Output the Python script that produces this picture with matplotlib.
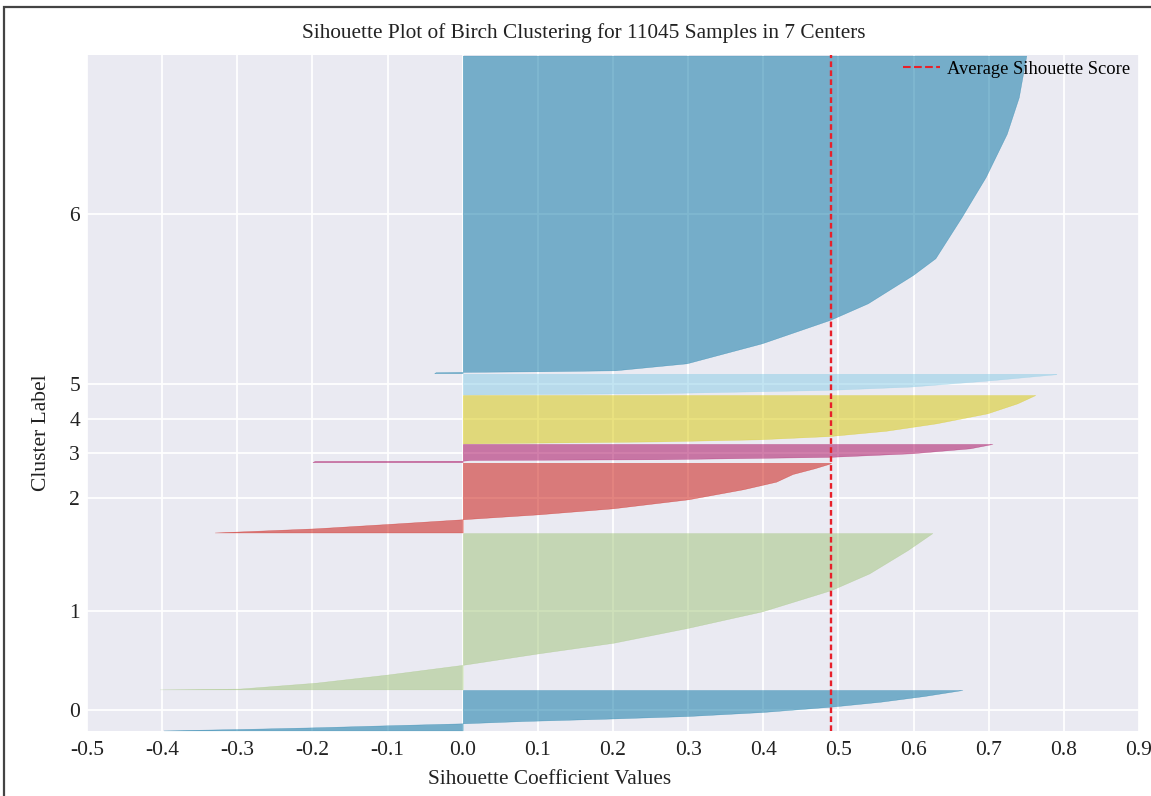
import matplotlib.pyplot as plt
import numpy as np
from matplotlib.lines import Line2D
from matplotlib.patches import Rectangle

plt.rcParams["font.family"] = ["Liberation Serif", "DejaVu Serif"]
plt.rcParams["axes.unicode_minus"] = False

title = "Sihouette Plot of Birch Clustering for 11045 Samples in 7 Centers"
cluster_labels = ["0", "1", "2", "3", "4", "5", "6"]
cluster_sizes = [665, 2572, 1147, 300, 795, 340, 5226]
cluster_colors = ["#0272a2", "#9fc377", "#ca0b03", "#a50258", "#d7c703", "#88cce6", "#0272a2"]
avg_score = 0.49

# sorted silhouette profile of each cluster: position inside cluster (0..1) -> value
c0_frac = [0.0, 0.04, 0.077, 0.126, 0.175, 0.233, 0.29, 0.356, 0.455, 0.587, 0.71, 0.851, 1.0]
c0_vals = [-0.398, -0.283, -0.195, -0.101, 0.0, 0.082, 0.191, 0.30, 0.399, 0.49, 0.556, 0.614, 0.665]

c1_frac = [0.0, 0.005, 0.043, 0.095, 0.157, 0.23, 0.298, 0.394, 0.5, 0.635, 0.742, 0.891, 1.0]
c1_vals = [-0.403, -0.297, -0.195, -0.100, 0.0, 0.10, 0.20, 0.30, 0.399, 0.49, 0.541, 0.592, 0.625]

c2_frac = [0.0, 0.06, 0.122, 0.19, 0.26, 0.347, 0.476, 0.62, 0.729, 0.839, 0.921, 0.993, 1.0]
c2_vals = [-0.33, -0.195, -0.10, 0.0, 0.10, 0.20, 0.30, 0.373, 0.417, 0.439, 0.468, 0.49, 0.49]

c3_frac = [0.0, 0.07, 0.08, 0.12, 0.16, 0.29, 0.49, 0.76, 1.0]
c3_vals = [-0.2, -0.197, 0.0, 0.01, 0.258, 0.488, 0.598, 0.675, 0.705]

c4_frac = [0.0, 0.04, 0.083, 0.151, 0.26, 0.414, 0.621, 0.828, 1.0]
c4_vals = [0.0, 0.258, 0.393, 0.488, 0.563, 0.63, 0.698, 0.738, 0.762]

c5_frac = [0.0, 0.06, 0.22, 0.38, 0.67, 0.98, 1.0]
c5_vals = [0.0, 0.258, 0.488, 0.596, 0.698, 0.79, 0.79]

c6_frac = [0.0, 0.003, 0.004, 0.006, 0.009, 0.031, 0.094, 0.168, 0.22, 0.309, 0.362, 0.492, 0.618, 0.754, 0.869, 1.0]
c6_vals = [-0.038, -0.036, 0.0, 0.105, 0.203, 0.298, 0.398, 0.489, 0.539, 0.599, 0.629, 0.664, 0.696, 0.724, 0.74, 0.75]

profiles = [
    (c0_frac, c0_vals), (c1_frac, c1_vals), (c2_frac, c2_vals), (c3_frac, c3_vals),
    (c4_frac, c4_vals), (c5_frac, c5_vals), (c6_frac, c6_vals),
]

fig = plt.figure(figsize=(11.51, 7.96), dpi=100)
ax = fig.add_axes([87 / 1151, 65 / 796, 1052 / 1151, 676 / 796])
ax.set_facecolor("#EAEAF2")
for s in ax.spines.values():
    s.set_visible(False)
ax.set_axisbelow(True)
ax.grid(True, color="white", linewidth=1.3)

y_lower = 10
tick_pos = []
for size, color, (frac, vals) in zip(cluster_sizes, cluster_colors, profiles):
    y = y_lower + np.array(frac) * size
    ax.fill_betweenx(y, 0, vals, facecolor=color, edgecolor=color, alpha=0.5, linewidth=0.3)
    tick_pos.append(y_lower + 0.5 * size)
    y_lower = y_lower + size + 10

ax.axvline(avg_score, color="#e8202a", linestyle=(0, (2.4, 1.4)), linewidth=1.7)

ax.set_xlim(-0.5, 0.9)
ax.set_ylim(0, sum(cluster_sizes) + (len(cluster_sizes) + 1) * 10)
xt = np.arange(-5, 10) / 10
ax.set_xticks(xt)
ax.set_xticklabels([f"{v:.1f}" for v in xt])
ax.set_yticks(tick_pos)
ax.set_yticklabels(cluster_labels)
ax.tick_params(axis="both", length=0, labelsize=15.5, colors="#222222")
ax.tick_params(axis="x", pad=7)
ax.tick_params(axis="y", pad=5)

ax.set_xlabel("Sihouette Coefficient Values", fontsize=15.3, color="#222222")
ax.xaxis.set_label_coords(0.44, -0.057)
ax.set_ylabel("Cluster Label", fontsize=15.5, color="#222222")
ax.yaxis.set_label_coords(-0.0345, 0.442)
ax.text(0.472, 1.033, title, transform=ax.transAxes, ha="center", va="center",
        fontsize=15.3, color="#222222")

proxy = Line2D([], [], color="#e8202a", linestyle="--", linewidth=1.5)
ax.legend([proxy], ["Average Sihouette Score"], loc="upper right", frameon=False,
          fontsize=13.3, borderaxespad=0.0, borderpad=0.3, handlelength=2.0,
          handletextpad=0.4, bbox_to_anchor=(0.997, 1.0))

fig.add_artist(Rectangle((4 / 1151, -0.05), 1.1, 1.05 - 7 / 796, transform=fig.transFigure,
                         fill=False, edgecolor="#444444", linewidth=1.6, clip_on=False))

fig.savefig("out.png", dpi=100)
